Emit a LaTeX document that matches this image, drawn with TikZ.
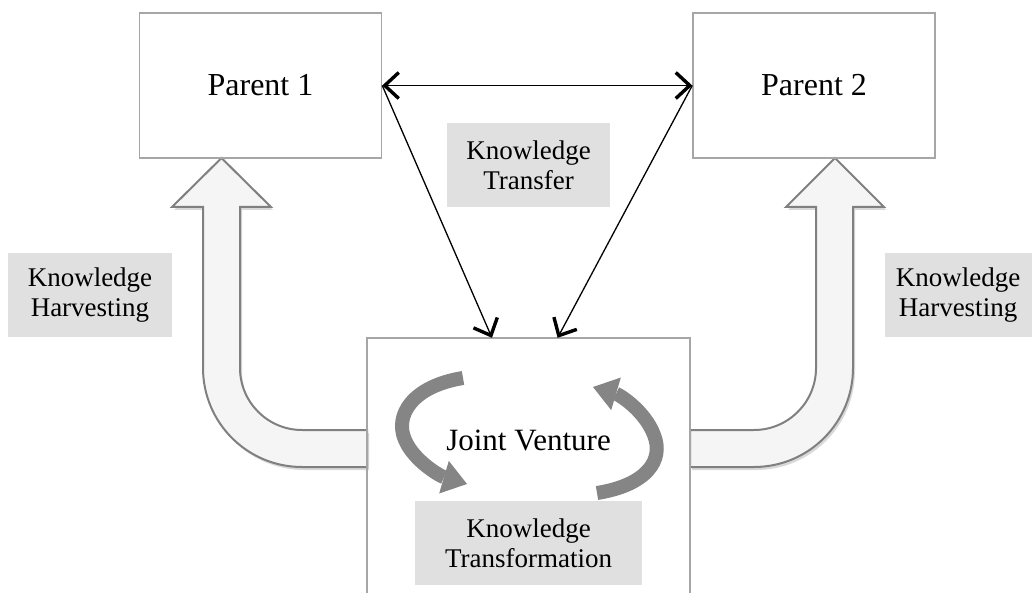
\documentclass[tikz,border=0pt]{standalone}
\usepackage{fontspec}
\setmainfont{Liberation Serif}
\usetikzlibrary{positioning, arrows.meta, calc, shadows}
\tikzset{
    parentbox/.style={draw=black!35, line width=1.5pt, minimum width=242pt, minimum height=145pt, font=\fontsize{32}{38}\selectfont},
    tagbox/.style={fill=black!12, minimum height=84pt, align=center, inner sep=0pt, font=\fontsize{27}{30}\selectfont},
    harvestarrow/.style={draw=black!50, fill=black!4, line width=2pt, drop shadow={opacity=0.3, shadow xshift=2pt, shadow yshift=-3pt}},
    cyclearrow/.style={draw=black!48, line width=14pt, -{Triangle[length=24pt, width=34pt, line width=0pt]}},
}

\begin{document}
\begin{tikzpicture}[
    x=1pt, y=-1pt,
    >={Straight Barb[length=14pt, width=26pt, line width=3.4pt]},
]
\useasboundingbox (0,0) rectangle (1035,593);

% harvesting arrows
\draw[harvestarrow] (367,467) -- (302,467) .. controls (247.3,467) and (203,422.7) .. (203,368)
    -- (203,207) -- (172,207) -- (221.5,158) -- (271,207) -- (240,207) -- (240,368)
    .. controls (240,402.2) and (267.8,430) .. (302,430) -- (367,430) -- cycle;
\draw[harvestarrow] (690,467) -- (754,467) .. controls (808.7,467) and (853,422.7) .. (853,368)
    -- (853,207) -- (884,207) -- (835,158) -- (786,207) -- (816,207) -- (816,368)
    .. controls (816,402.2) and (788.2,430) .. (754,430) -- (690,430) -- cycle;

\node[parentbox] (p1) at (260.5,85.5) {Parent 1};
\node[parentbox, right=310pt of p1] (p2) {Parent 2};
\node[minimum width=323pt, minimum height=255pt] (jv) at (528.5,465.5) {};
\draw[black!35, line width=1.5pt] (jv.south west) |- (jv.north east) -- (jv.south east);
\node[font=\fontsize{31}{37}\selectfont] (jvtext) at (528.5,440) {Joint Venture};

\node[tagbox, minimum width=163pt] (kt) at (528.5,165) {Knowledge\\Transfer};
\node[tagbox, minimum width=164pt] (khl) at (90,295) {Knowledge\\Harvesting};
\node[tagbox, minimum width=147pt] (khr) at (958,295) {Knowledge\\Harvesting};
\node[tagbox, minimum width=227pt] (ktr) at (528.5,543) {Knowledge\\Transformation};

% transformation cycle
\draw[cyclearrow] (463,378) .. controls (413,386) and (394,415) .. (405,440)
    .. controls (414,461) and (440,476) .. (467,484);
\draw[cyclearrow] (597,493) .. controls (647,485) and (664,460) .. (654,435)
    .. controls (645,411) and (620,395) .. (593,387);

% transfer arrows
\draw[<->, line width=1.3pt] (p1.east) -- (p2.west);
\draw[->, line width=1.3pt] (p1.east) -- ($(jv.north west)!0.387!(jv.north east)$);
\draw[->, line width=1.3pt] (p2.west) -- ($(jv.north west)!0.59!(jv.north east)$);
\end{tikzpicture}
\end{document}
